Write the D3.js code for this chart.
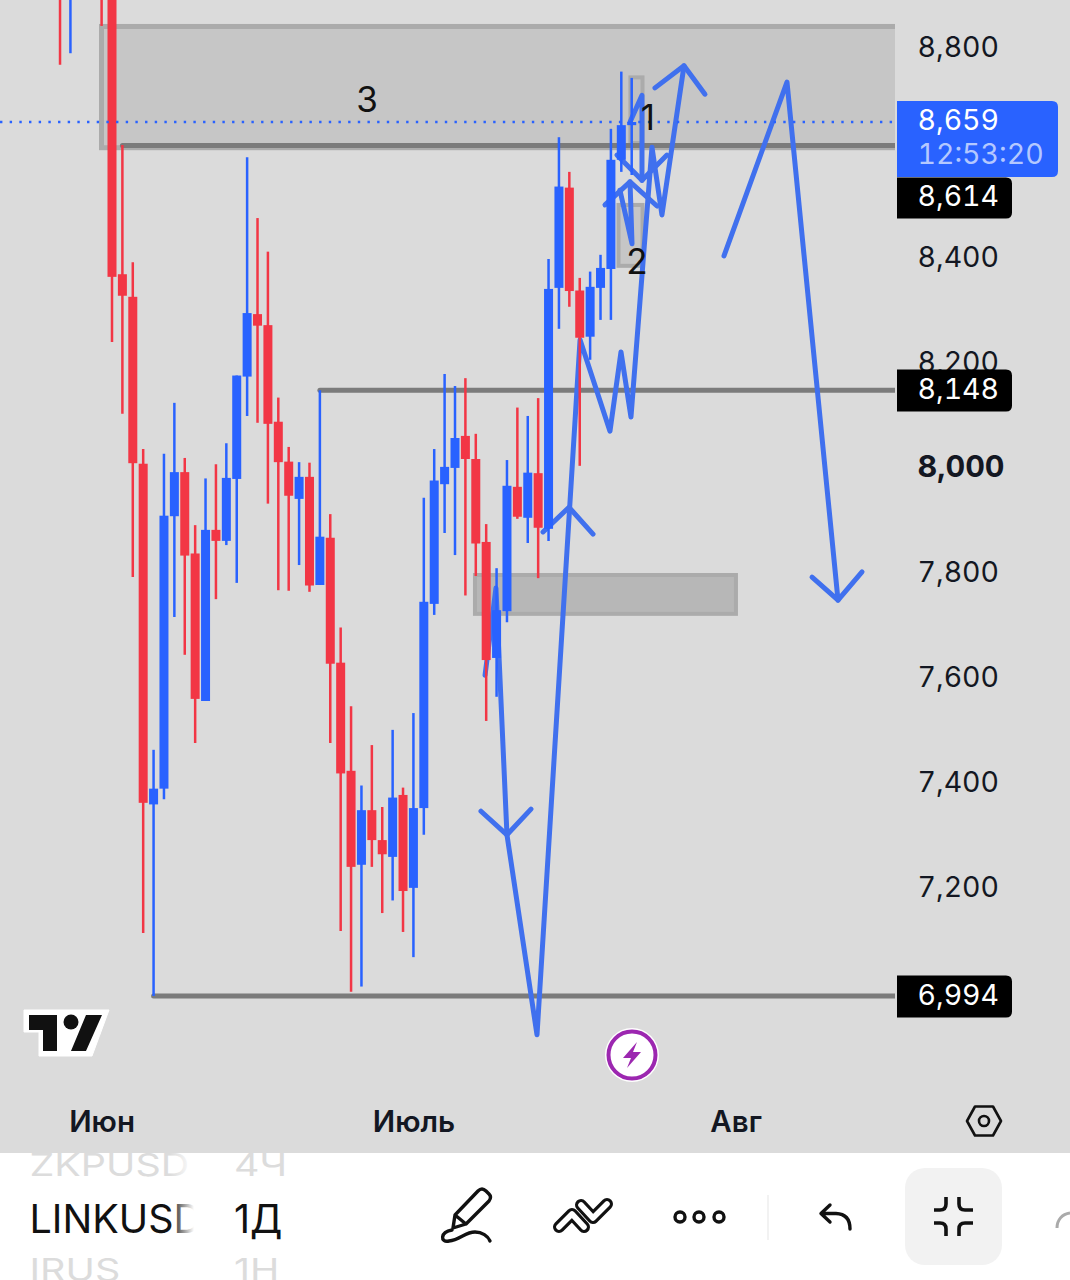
<!DOCTYPE html>
<html><head><meta charset="utf-8">
<script src="https://cdn.jsdelivr.net/npm/d3@7/dist/d3.min.js"></script>
<style>html,body{margin:0;padding:0;background:#fff}svg{display:block}text{font-family:Inter,"Noto Sans",sans-serif}.num{font-variant-numeric:tabular-nums;font-feature-settings:"tnum"}</style>
</head><body>
<svg id="c" width="1070" height="1280"></svg>
<script>
// daily candles, first one is 5 days before the 2 June candle
const opens=[9100,8950,9200,9100,9150,9000,8369,8326,8008,7359,7389,7908,7992,7837,7556,7882,7861,7979,8174,8293,8272,8088,8012,7941,7983,7777,7867,7629,7423,7244,7348,7291,7259,7377,7200,7352,7741,7969,8000,8061,8017,7859,7638,7727,7964,7905,7990,7884,8343,8534,8338,8250,8343,8379,8587,8653];
const highs=[9300,9100,9300,9200,9200,9050,8615,8392,8036,7463,8027,8124,8019,7891,7980,8007,8047,8176,8592,8476,8412,8134,8040,8011,8010,8148,7912,7696,7546,7395,7472,7354,7501,7391,7533,7943,8036,8179,8156,8171,8065,7893,7809,8015,8115,8099,8133,8398,8630,8564,8362,8374,8406,8646,8755,8743];
const lows=[8768,8790,9000,8950,8842,8240,8103,7792,7114,6994,7369,7716,7644,7476,7556,7750,7853,7781,8099,8086,7932,7767,7766,7815,7764,7777,7476,7118,7002,7012,7240,7152,7176,7116,7068,7301,7720,7876,7834,7757,7794,7518,7564,7706,7903,7857,7790,7861,8265,8307,8004,8206,8282,8282,8564,8558];
const closes=[9000,9050,9100,9020,9000,8364,8328,8009,7362,7389,7909,7992,7833,7560,7882,7861,7981,8176,8295,8271,8084,8011,7947,7983,7776,7869,7627,7418,7240,7348,7291,7264,7372,7194,7352,7745,7976,8002,8057,8017,7856,7634,7729,7966,7907,7991,7886,8341,8536,8337,8248,8345,8381,8587,8653,8659];

const priceTicks=[8800,8400,8200,8000,7800,7600,7400,7200];
const monthTicks=[4,34,65];
const monthLabels=["Июн","Июль","Авг"];
const lastPrice=8659, countdown="12:53:20";
const levels=[{from:6,price:8614},{from:25,price:8148},{from:9,price:6994}];
// drawn zones: [from day, to day, top price, bottom price]
const zones=[[3.99,82,8841,8610],[54.88,56.04,8744,8619],[53.73,56.04,8501,8385],[39.92,65.03,7796,7722]];
const zoneFills=["#c6c6c6","#c0c0c0","#c6c6c6","#b7b7b7"];
// hand-drawn paths: [day, price]
const pathMain=[[40.89,7605],[41.94,7771],[43,7301],[45.89,6920],[50.03,8244],[52.91,8070],[53.97,8221],[54.93,8097],[56.95,8611],[57.91,8482],[60.03,8766]];
const pathHeadA=[[40.5,7346],[43,7301],[45.31,7350]];
const pathHeadB=[[46.47,7878],[48.97,7925],[51.28,7874]];
const pathHeadC=[[57.24,8724],[60.03,8766],[62.05,8712]];
const pathRight=[[63.88,8404],[69.94,8735],[74.85,7748]];
const pathHeadD=[[72.35,7792],[74.85,7748],[77.16,7802]];
const pathSmall1=[[54.84,8659],[55.99,8710],[55.99,8548]];
const pathHeadE=[[53.58,8596],[55.99,8548],[58.39,8596]];
const pathSmall2=[[53.87,8529],[55.03,8427],[54.84,8545]];
const pathHeadF=[[52.43,8501],[54.84,8545],[57.43,8499]];
const paths=[pathMain,pathHeadA,pathHeadB,pathHeadC,pathRight,pathHeadD,pathSmall1,pathHeadE,pathSmall2,pathHeadF];
const notes=[{t:"3",d:29.53,p:8702},{t:"1",d:56.56,p:8668},{t:"2",d:55.5,p:8395}];

const UP="#2962ff",DOWN="#f23645",BG="#dbdbdb",INK="#131722",DRAW="#4070ee";
const svg=d3.select("#c");
const x=d3.scaleLinear().domain([0,80]).range([60.03,891.55]);
const y=d3.scaleLinear().domain([8659,6994]).range([122,996]);

svg.append("rect").attr("width",1070).attr("height",1153).attr("fill",BG);
svg.append("defs").append("clipPath").attr("id","plot").append("rect").attr("width",895).attr("height",1153);
const plot=svg.append("g").attr("clip-path","url(#plot)");

plot.selectAll("rect.zone").data(zones).join("rect").attr("class","zone")
 .attr("x",d=>x(d[0])).attr("width",d=>x(d[1])-x(d[0]))
 .attr("y",d=>y(d[2])).attr("height",d=>y(d[3])-y(d[2]))
 .attr("fill",(d,i)=>zoneFills[i]).attr("stroke","#ababab").attr("stroke-width",(d,i)=>i==0?5:4);

plot.selectAll("line.level").data(levels).join("line").attr("class","level")
 .attr("x1",d=>x(d.from)).attr("x2",895).attr("y1",d=>y(d.price)).attr("y2",d=>y(d.price))
 .attr("stroke","#7b7b7b").attr("stroke-width",5).attr("stroke-linecap","round");

const line=d3.line().x(d=>x(d[0])).y(d=>y(d[1]));
plot.selectAll("path.draw").data(paths).join("path").attr("class","draw").attr("d",line)
 .attr("fill","none").attr("stroke",DRAW).attr("stroke-width",5).attr("stroke-linecap","round").attr("stroke-linejoin","round");

const idx=d3.range(opens.length);
const col=i=>closes[i]>=opens[i]?UP:DOWN;
plot.selectAll("line.wick").data(idx).join("line").attr("class","wick")
 .attr("x1",i=>x(i)).attr("x2",i=>x(i)).attr("y1",i=>y(highs[i])).attr("y2",i=>y(lows[i]))
 .attr("stroke",col).attr("stroke-width",2.5);
plot.selectAll("rect.body").data(idx).join("rect").attr("class","body")
 .attr("x",i=>x(i)-4.5).attr("width",9)
 .attr("y",i=>y(Math.max(opens[i],closes[i])))
 .attr("height",i=>Math.max(1,Math.abs(y(opens[i])-y(closes[i]))))
 .attr("fill",col);

plot.append("line").attr("x1",0).attr("x2",895).attr("y1",y(lastPrice)).attr("y2",y(lastPrice))
 .attr("stroke",UP).attr("stroke-width",2.4).attr("stroke-dasharray","2.4 7.27");

plot.selectAll("text.note").data(notes).join("text").attr("class","note")
 .attr("x",d=>x(d.d)).attr("y",d=>y(d.p)).attr("text-anchor","middle").attr("dominant-baseline","central")
 .attr("font-size",35).attr("fill","#111").text(d=>d.t);

// price axis
const axisY=svg.append("g").attr("transform","translate(917.5,0)")
 .call(d3.axisRight(y).tickValues(priceTicks).tickSize(0).tickPadding(0).tickFormat(d3.format(",")));
axisY.select(".domain").remove();
axisY.selectAll("text").attr("class","num").attr("font-family","Inter").attr("font-size",d=>d==8000?30.5:28.5).attr("fill",INK).attr("dy","0.29em")
 .attr("font-weight",d=>d==8000?700:400);

// month axis
const axisX=svg.append("g").attr("transform","translate(0,1121)")
 .call(d3.axisBottom(x).tickValues(monthTicks).tickSize(0).tickPadding(0).tickFormat((d,i)=>monthLabels[i]));
axisX.select(".domain").remove();
axisX.selectAll("text").attr("font-family","Inter").attr("font-size",29.5).attr("font-weight",600).attr("fill","#131722").attr("y",0).attr("dy","0.36em");

// price labels
function tag(yT,yB,xR){const r=6;return `M897,${yT}H${xR-r}Q${xR},${yT} ${xR},${yT+r}V${yB-r}Q${xR},${yB} ${xR-r},${yB}H897Z`;}
svg.append("path").attr("d",tag(101,177,1058)).attr("fill",UP);
svg.append("text").attr("class","num").attr("x",917.5).attr("y",120).attr("dy","0.36em").attr("font-size",28.5).attr("fill","#fff").text(d3.format(",")(lastPrice));
svg.append("text").attr("class","num").attr("x",917.5).attr("y",154).attr("dy","0.36em").attr("font-size",28.5).attr("fill","#b4c8ff").text(countdown);
const tags=svg.selectAll("g.tag").data(levels).join("g").attr("class","tag");
tags.append("path").attr("d",d=>tag(Math.round(y(d.price))+(d.price==8614?31.5:-20.5),Math.round(y(d.price))+(d.price==8614?72.5:21.5),1012)).attr("fill","#000");
tags.append("text").attr("class","num").attr("x",917.5).attr("y",d=>Math.round(y(d.price))+(d.price==8614?50:-1)).attr("dy","0.36em").attr("font-size",28.5).attr("fill","#fff").text(d=>d3.format(",")(d.price));

// settings hexagon
svg.append("path").attr("d","M975,1106.5H993L1001,1121L993,1135.5H975L967,1121Z").attr("fill","none").attr("stroke","#111").attr("stroke-width",2.6).attr("stroke-linejoin","round");
svg.append("circle").attr("cx",984).attr("cy",1121).attr("r",5).attr("fill","none").attr("stroke","#111").attr("stroke-width",2.6);

// tradingview logo
svg.append("path").attr("d","M24,1010H109L92,1056H39V1032H24Z").attr("fill","#fff").attr("stroke","#fff").attr("stroke-linejoin","round");
svg.append("path").attr("d","M29,1015H57V1051H43V1030H29Z M86,1015H102L86,1051H71Z").attr("fill","#111");
svg.append("circle").attr("cx",71).attr("cy",1022).attr("r",7.5).attr("fill","#111");

// lightning badge
svg.append("circle").attr("cx",632).attr("cy",1055).attr("r",27).attr("fill","#fff");
svg.append("circle").attr("cx",632).attr("cy",1055).attr("r",23.5).attr("fill","#fff").attr("stroke","#9c27b0").attr("stroke-width",4);
svg.append("path").attr("d","M637,1042L623,1058H631L627,1068L641,1052H633Z").attr("fill","#9c27b0");

// bottom panel
svg.append("rect").attr("y",1153).attr("width",1070).attr("height",127).attr("fill","#fff");
const defs=svg.select("defs");
const g=defs.append("linearGradient").attr("id","fade");
g.append("stop").attr("offset",0).attr("stop-color","#fff").attr("stop-opacity",0);
g.append("stop").attr("offset",1).attr("stop-color","#fff");
defs.append("clipPath").attr("id","panel").append("rect").attr("y",1153).attr("width",1070).attr("height",127);
const panel=svg.append("g").attr("clip-path","url(#panel)");
const picker=[["ZKPUSD","4Ч",1175.5,.8,"#dcdcdc"],["LINKUSD","1Д",1233,1,"#111"],["IRUS","1H",1281,.8,"#dcdcdc"]];
picker.forEach(p=>{
 [[p[0],29.5],[p[1],234]].forEach(q=>{
  panel.append("text").attr("transform",`translate(${q[1]},${p[2]}) scale(1,${p[3]})`).attr("font-size",39.5).attr("font-weight",400).attr("fill",p[4]).text(q[0]);
 });
});
panel.append("rect").attr("x",170).attr("y",1153).attr("width",24).attr("height",127).attr("fill","url(#fade)");
panel.append("rect").attr("x",194).attr("y",1153).attr("width",38).attr("height",127).attr("fill","#fff");

svg.append("rect").attr("x",905).attr("y",1168).attr("width",97).attr("height",97).attr("rx",20).attr("fill","#f2f2f2");
const ic=svg.append("g").attr("fill","none").attr("stroke","#111").attr("stroke-width",3.4).attr("stroke-linecap","round").attr("stroke-linejoin","round");
ic.append("path").attr("d","M455,1215L478,1191Q482,1187 486,1191L489,1194Q492,1197 489,1201L466,1224L453,1228Z M455,1215L466,1224");
ic.append("path").attr("d","M452,1230C440,1232 440,1243 449,1241C460,1240 465,1232 475,1232C482,1232 488,1236 490,1241");
ic.append("path").attr("d","M559,1227L572,1214L584,1227 M581,1205L593,1218L607,1204").attr("stroke-width",12);
ic.append("path").attr("d","M559,1227L572,1214L584,1227 M581,1205L593,1218L607,1204").attr("stroke-width",5.6).attr("stroke","#fff");
[680,699,719].forEach(cx=>ic.append("circle").attr("cx",cx).attr("cy",1217).attr("r",5));
svg.append("line").attr("x1",768).attr("x2",768).attr("y1",1195).attr("y2",1240).attr("stroke","#eeeeee").attr("stroke-width",1.5);
ic.append("path").attr("d","M830,1205L821,1213.5L830,1222 M821,1213.5H836Q850,1214 850,1229");
const ic2=svg.append("g").attr("fill","none").attr("stroke","#111").attr("stroke-width",3.6).attr("stroke-linecap","butt");
ic2.append("path").attr("d","M946,1197V1204Q946,1210 940,1210H934 M959,1197V1204Q959,1210 965,1210H973 M934,1223H940Q946,1223 946,1229V1236 M973,1223H965Q959,1223 959,1229V1236");
svg.append("path").attr("d","M1057,1228C1057,1220 1062,1214 1070,1213").attr("fill","none").attr("stroke","#aaa").attr("stroke-width",3);
</script>
</body></html>
